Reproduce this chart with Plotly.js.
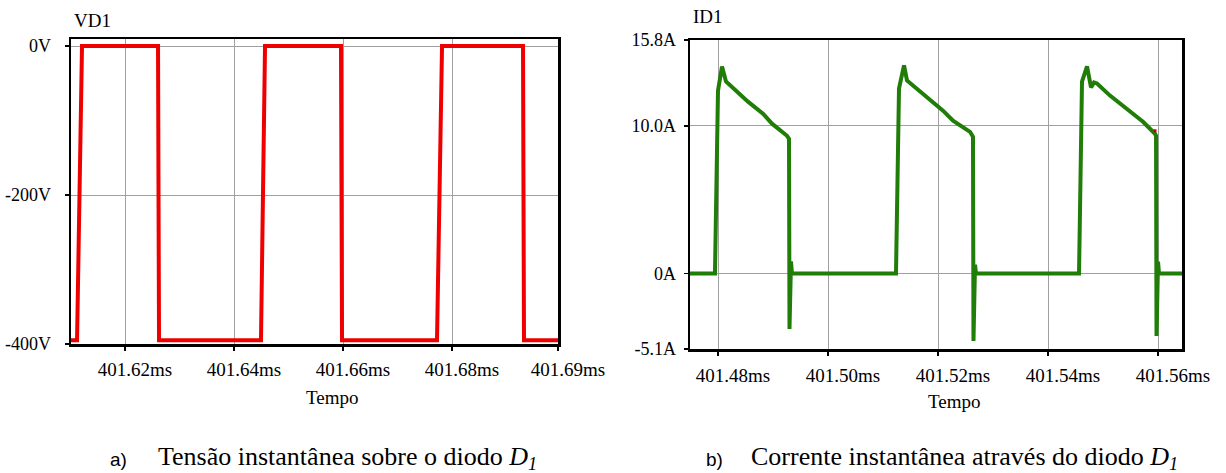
<!DOCTYPE html>
<html>
<head>
<meta charset="utf-8">
<script src="https://cdn.plot.ly/plotly-3.0.1.min.js"></script>
<style>html,body{margin:0;padding:0;background:#fff;}#chart{width:1226px;height:473px;}</style>
</head>
<body>
<div id="chart"></div>
<script>
// ---- Data: diode voltage VD1 (left panel) ----
const vdTime = [401.61009, 401.61120, 401.61211, 401.62606, 401.62624, 401.64495, 401.64569,
                401.65963, 401.65982, 401.67725, 401.67817, 401.69303, 401.69321, 401.69945];
const vdVolts = [-395, -395, 0, 0, -395, -395, 0,
                 0, -395, -395, 0, 0, -395, -395];

// ---- Data: diode current ID1 (right panel) ----
const idTime = [401.47491, 401.47945, 401.48000, 401.48073, 401.48145, 401.48345, 401.48545, 401.48818,
                401.48982, 401.49255, 401.49291, 401.49300, 401.49327, 401.49345,
                401.51236, 401.51291, 401.51382, 401.51436, 401.51673, 401.51855, 401.52091, 401.52273,
                401.52582, 401.52636, 401.52645, 401.52673, 401.52691,
                401.54564, 401.54618, 401.54709, 401.54782, 401.54836, 401.54891, 401.55127, 401.55364,
                401.55618, 401.55727, 401.55945, 401.55964, 401.55973, 401.56000, 401.56018, 401.56436];
const idAmps = [0, 0, 12.38, 14.01, 12.99, 12.31, 11.63, 10.82,
                10.14, 9.32, 9.12, -3.74, 0.82, 0,
                0, 12.52, 14.08, 13.06, 12.31, 11.70, 11.02, 10.34,
                9.59, 9.25, -4.56, 0.6, 0,
                0, 12.99, 14.01, 12.59, 12.93, 12.86, 12.04, 11.36,
                10.61, 10.27, 9.46, 9.32, -4.22, 0.8, 0, 0];
const markerTime = [401.55945];
const markerAmps = [9.66];

// ---- Tick labels ----
const vdTickVals = [401.62, 401.64, 401.66, 401.68, 401.69945];
const vdTickText = ["401.62ms", "401.64ms", "401.66ms", "401.68ms", "401.69ms"];
const vdYTickVals = [0, -200, -400];
const vdYTickText = ["0V", "-200V", "-400V"];
const idTickVals = [401.48, 401.50, 401.52, 401.54, 401.56];
const idTickText = ["401.48ms", "401.50ms", "401.52ms", "401.54ms", "401.56ms"];
const idYTickVals = [15.8, 10.0, 0, -5.1];
const idYTickText = ["15.8A", "10.0A", "0A", "-5.1A"];

const W = 1226, H = 473;
const px = v => v / W;
const py = v => 1 - v / H;
const serif = "Liberation Serif, Times New Roman, serif";

const traces = [
  {x: vdTime, y: vdVolts, xaxis: 'x', yaxis: 'y', mode: 'lines',
   line: {color: '#ee0000', width: 4}, hoverinfo: 'x+y'},
  {x: idTime, y: idAmps, xaxis: 'x2', yaxis: 'y2', mode: 'lines',
   line: {color: '#1f7d08', width: 4}, hoverinfo: 'x+y'},
  {x: markerTime, y: markerAmps, xaxis: 'x2', yaxis: 'y2', mode: 'markers',
   marker: {color: '#cc0000', size: 3, symbol: 'square'}, hoverinfo: 'skip'}
];

const axisCommon = {
  showline: true, linecolor: '#000', linewidth: 2.5, mirror: true,
  showgrid: true, gridcolor: '#a0a0a0', gridwidth: 1,
  zeroline: false, ticks: 'outside', ticklen: 4, tickwidth: 1.5, tickcolor: '#000',
  tickmode: 'array', fixedrange: true,
  tickfont: {family: serif, size: 19, color: '#000'}
};

const layout = {
  width: W, height: H,
  margin: {l: 0, r: 0, t: 0, b: 0},
  paper_bgcolor: '#fff', plot_bgcolor: '#fff',
  showlegend: false,
  xaxis: Object.assign({}, axisCommon, {
    domain: [px(71), px(558)], range: [401.61009, 401.69945], anchor: 'y',
    tickvals: vdTickVals, ticktext: vdTickText, ticklabelshift: 10, ticklabelstandoff: 3
  }),
  yaxis: Object.assign({}, axisCommon, {
    domain: [1 - 344 / H, 1 - 39 / H], range: [-400, 9.4], anchor: 'x',
    tickvals: vdYTickVals, ticktext: vdYTickText, ticklabelstandoff: 10,
    tickfont: {family: serif, size: 18, color: '#000'}
  }),
  xaxis2: Object.assign({}, axisCommon, {
    domain: [px(690), px(1182)], range: [401.47491, 401.56436], anchor: 'y2',
    tickvals: idTickVals, ticktext: idTickText, ticklabelshift: 15, ticklabelstandoff: 4
  }),
  yaxis2: Object.assign({}, axisCommon, {
    domain: [1 - 349 / H, 1 - 40 / H], range: [-5.1, 15.8], anchor: 'x2',
    tickvals: idYTickVals, ticktext: idYTickText, ticklabelstandoff: 4,
    tickfont: {family: serif, size: 18, color: '#000'}
  }),
  annotations: [
    {text: 'VD1', xref: 'paper', yref: 'paper', x: px(72), y: py(20), xanchor: 'left', yanchor: 'middle',
     showarrow: false, font: {family: serif, size: 19, color: '#000'}},
    {text: 'ID1', xref: 'paper', yref: 'paper', x: px(691), y: py(17), xanchor: 'left', yanchor: 'middle',
     showarrow: false, font: {family: serif, size: 19, color: '#000'}},
    {text: 'Tempo', xref: 'paper', yref: 'paper', x: px(332), y: py(397), xanchor: 'center', yanchor: 'middle',
     showarrow: false, font: {family: serif, size: 19, color: '#000'}},
    {text: 'Tempo', xref: 'paper', yref: 'paper', x: px(955), y: py(401), xanchor: 'center', yanchor: 'middle',
     showarrow: false, font: {family: serif, size: 19, color: '#000'}},
    {text: 'a)', xref: 'paper', yref: 'paper', x: px(108), y: py(459), xanchor: 'left', yanchor: 'middle',
     showarrow: false, font: {family: 'Liberation Sans, Arial, sans-serif', size: 19, color: '#000'}},
    {text: 'Tensão instantânea sobre o diodo <i>D</i><sub><i>1</i></sub>', xref: 'paper', yref: 'paper',
     x: px(151), y: py(458), xanchor: 'left', yanchor: 'middle', borderpad: 6,
     showarrow: false, font: {family: serif, size: 26, color: '#000'}},
    {text: 'b)', xref: 'paper', yref: 'paper', x: px(704), y: py(459), xanchor: 'left', yanchor: 'middle',
     showarrow: false, font: {family: 'Liberation Sans, Arial, sans-serif', size: 19, color: '#000'}},
    {text: 'Corrente instantânea através do diodo <i>D</i><sub><i>1</i></sub>', xref: 'paper', yref: 'paper',
     x: px(744), y: py(458), xanchor: 'left', yanchor: 'middle', borderpad: 6,
     showarrow: false, font: {family: serif, size: 26, color: '#000'}}
  ]
};

Plotly.newPlot('chart', traces, layout, {displayModeBar: false, staticPlot: true});
</script>
</body>
</html>
